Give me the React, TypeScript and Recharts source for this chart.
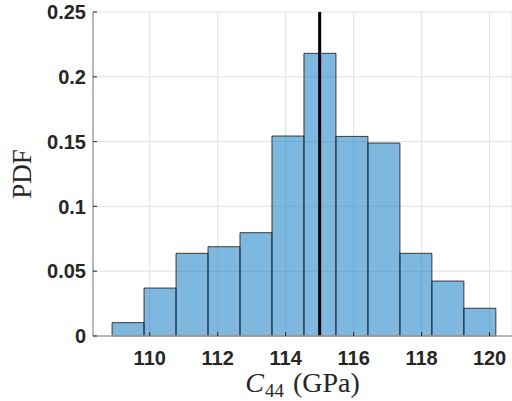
import React from 'react';
import { ComposedChart, XAxis, YAxis, CartesianGrid, ReferenceArea, ReferenceLine, Line } from 'recharts';

const binEdges = [108.891, 109.832, 110.774, 111.715, 112.656, 113.597, 114.538, 115.479, 116.421, 117.362, 118.303, 119.244, 120.185];
const pdfValues = [0.0103, 0.037, 0.0638, 0.0689, 0.0797, 0.1543, 0.2181, 0.154, 0.1489, 0.0638, 0.0424, 0.0214];
const xTicks = [110, 112, 114, 116, 118, 120];
const yTicks = [0, 0.05, 0.1, 0.15, 0.2, 0.25];
const yTickLabels = ['0', '0.05', '0.1', '0.15', '0.2', '0.25'];
const meanValue = 115;

const data = pdfValues.map((v, i) => ({ x: (binEdges[i] + binEdges[i + 1]) / 2, pdf: v }));

const tickFont = { fontFamily: '"Liberation Sans", Arial, sans-serif', fontWeight: 700, fontSize: 20, fill: '#262626' };

export default function App() {
  return (
    <div style={{ position: 'absolute', left: 0, top: 0, width: 512, height: 401, background: '#fff' }}>
      <ComposedChart width={512} height={401} data={data} margin={{ top: 12, right: 0, left: 0, bottom: 0 }}>
        <CartesianGrid stroke="#e3e3e3" strokeWidth={1} />
        <XAxis
          dataKey="x"
          type="number"
          domain={[108.33, 120.66]}
          ticks={xTicks}
          allowDataOverflow
          height={65}
          axisLine={{ stroke: '#a6a6a6', strokeWidth: 1.5 }}
          tickLine={{ stroke: '#262626' }}
          tickSize={-4}
          tickMargin={19}
          tick={tickFont}
          label={{
            content: (props: any) => {
              const vb = props.viewBox;
              return (
                <text x={vb.x + vb.width / 2} y={vb.y + 56} textAnchor="middle" fontFamily='"Liberation Serif", "Times New Roman", serif' fontSize={28} fill="#262626">
                  <tspan fontStyle="italic">C</tspan>
                  <tspan fontSize={19} dy={5} dx={1}>44</tspan>
                  <tspan dy={-5} dx={9}>(GPa)</tspan>
                </text>
              );
            },
          }}
        />
        <XAxis
          xAxisId="top"
          orientation="top"
          type="number"
          domain={[108.33, 120.66]}
          ticks={xTicks}
          allowDataOverflow
          height={0}
          axisLine={{ stroke: '#a6a6a6', strokeWidth: 2 }}
          tickLine={{ stroke: '#262626' }}
          tickSize={-4}
          tick={false}
        />
        <YAxis
          type="number"
          domain={[0, 0.25]}
          ticks={yTicks}
          width={93}
          allowDataOverflow
          axisLine={{ stroke: '#a6a6a6', strokeWidth: 1.5 }}
          tickLine={{ stroke: '#262626' }}
          tickSize={-4}
          tickMargin={11}
          tick={tickFont}
          tickFormatter={(v: number) => yTickLabels[yTicks.indexOf(v)] ?? String(v)}
          label={{
            content: (props: any) => {
              const vb = props.viewBox;
              const cx = 31;
              const cy = vb.y + vb.height / 2;
              return (
                <text x={cx} y={cy} textAnchor="middle" transform={`rotate(-90, ${cx}, ${cy})`} fontFamily='"Liberation Serif", "Times New Roman", serif' fontSize={27} fill="#262626">
                  PDF
                </text>
              );
            },
          }}
        />
        {pdfValues.map((v, i) => (
          <ReferenceArea
            key={i}
            x1={binEdges[i]}
            x2={binEdges[i + 1]}
            y1={0}
            y2={v}
            fill="#0072BD"
            fillOpacity={0.5}
            stroke="#1f1f1f"
            strokeOpacity={0.85}
            strokeWidth={1}
            ifOverflow="visible"
          />
        ))}
        <Line dataKey="pdf" stroke="none" dot={false} activeDot={false} isAnimationActive={false} />
        <ReferenceLine x={meanValue} stroke="#000" strokeWidth={3} ifOverflow="visible" />
      </ComposedChart>
    </div>
  );
}
